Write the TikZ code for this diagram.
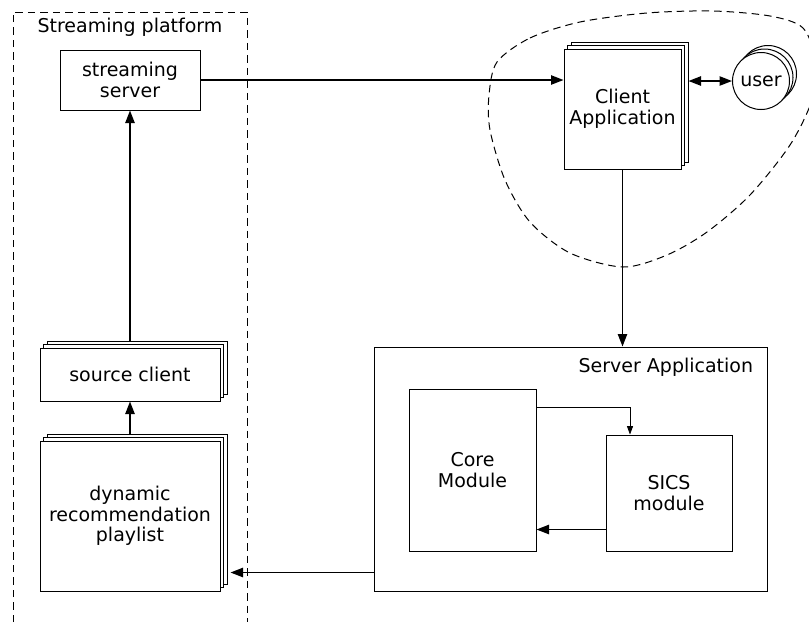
\documentclass[tikz,border=0pt]{standalone}
\usepackage{fontspec}
\setmainfont{DejaVu Sans}
\usetikzlibrary{arrows.meta,positioning,calc,shadows}
\tikzset{>={Triangle[length=7.5pt,width=5.6pt]}, line/.style={line width=0.85pt},
box/.style={draw, line width=0.6pt, fill=white, align=center, inner sep=0pt},
stack/.style={general shadow={shadow xshift=4.2pt, shadow yshift=4.2pt, fill=white, draw=black},
  general shadow={shadow xshift=2.1pt, shadow yshift=2.1pt, fill=white, draw=black}},
zone/.style={dash pattern=on 4.5pt off 3pt, line width=0.6pt}}

\begin{document}
\begin{tikzpicture}[x=0.6pt, y=-0.6pt, font=\fontsize{11.4}{12.4}\selectfont]
\clip (0,0) rectangle (809,628);
\useasboundingbox (0,0) rectangle (809,628);
% Streaming platform
\draw[zone] (13,622) -- (13,12) -- (247,12) -- (247,622);
\node (plat) at (130,27) {Streaming platform};
\node[box, minimum width=84pt, minimum height=36pt] (srv) at (130,80) {streaming\\server};
\node[box, stack, minimum width=108pt, minimum height=31.8pt] (src) at (130,374.5) {source client};
\node[box, stack, minimum width=108pt, minimum height=90pt] (pls) at (130,516) {dynamic\\recommendation\\playlist};
% Client side
\draw[zone] plot[smooth cycle] coordinates {(497,62) (530,38) (580,22) (647,13) (713,11) (770,16)
  (803,28) (816,62) (812,100) (790,145) (750,195) (707,232) (667,255) (623,267) (570,253)
  (530,222) (505,180) (490,130) (489,95)};
\node[box, stack, minimum width=70.2pt, minimum height=72pt] (cli) at (622.5,109) {Client\\Application};
\node[box, stack, circle, minimum size=34.2pt] (usr) at (761,81) {user};
% Server side
\node[box, minimum width=235.8pt, minimum height=146.4pt] (sapp) at (570.5,469) {};
\node[anchor=east] (sapplbl) at (759,367) {Server Application};
\node[box, minimum width=76.2pt, minimum height=97.2pt] (core) at (472.5,470) {Core\\Module};
\node[box, minimum width=75.6pt, minimum height=69.6pt] (sics) at (669,493) {SICS\\module};
% Connectors
\draw[line,->] (srv.east) -- (srv.east -| cli.west);
\draw[line,<->] ($(usr.west -| cli.east)+(4.2pt,0)$) -- (usr.west);
\draw[line,->] (cli.south) -- (cli.south |- sapp.north);
\draw[line width=0.4pt,-{Triangle[length=5pt,width=3.6pt]}] ([yshift=-11.4pt]core.north east) -| ([xshift=-23.4pt]sics.north);
\draw[line,->] ([yshift=13.2pt]sics.south west) -- ([yshift=13.2pt]sics.south west -| core.east);
\draw[line,->] ([yshift=11.4pt]sapp.south west) -- ($([yshift=11.4pt]sapp.south west -| pls.east)+(6pt,0)$);
\draw[line,->] ([yshift=4.2pt]pls.north) -- (src.south);
\draw[line,->] ([yshift=4.2pt]src.north) -- (srv.south);
\end{tikzpicture}
\end{document}
